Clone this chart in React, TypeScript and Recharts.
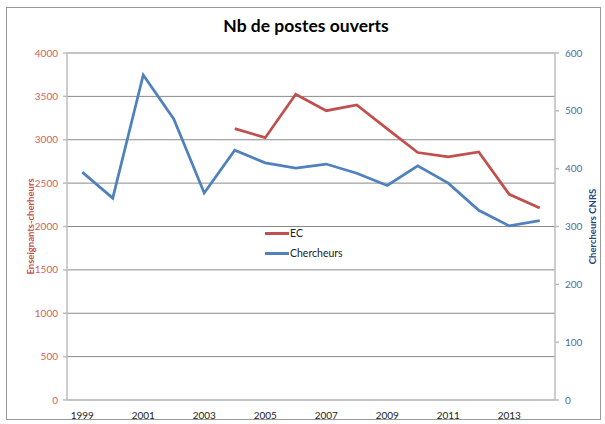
import { LineChart, Line, XAxis, YAxis, CartesianGrid, Legend } from 'recharts'

const years = [1999, 2000, 2001, 2002, 2003, 2004, 2005, 2006, 2007, 2008, 2009, 2010, 2011, 2012, 2013, 2014]
const ecValues = [null, null, null, null, null, 3128, 3024, 3524, 3335, 3401, 3125, 2853, 2803, 2859, 2371, 2213]
const chercheursValues = [394, 349, 562, 486, 358, 432, 410, 401, 408, 392, 371, 405, 375, 328, 301, 310]
const leftTicks = [0, 500, 1000, 1500, 2000, 2500, 3000, 3500, 4000]
const rightTicks = [0, 100, 200, 300, 400, 500, 600]
const labelYears = [1999, 2001, 2003, 2005, 2007, 2009, 2011, 2013]
const boundaryTicks = [...years.map((y) => y - 0.5), years[years.length - 1] + 0.5]

const data = years.map((year, i) => ({ year, ec: ecValues[i], chercheurs: chercheursValues[i] }))

const FONT = 'Lato, "Open Sans", sans-serif'
const RED = '#C0504D'
const BLUE = '#4F81BD'

function AxisTitle({ viewBox, value, fill, dx }: any) {
  const cx = viewBox.x + viewBox.width / 2 + dx
  const cy = viewBox.y + viewBox.height / 2
  return (
    <text x={cx} y={cy} transform={`rotate(-90 ${cx} ${cy})`} textAnchor="middle" dominantBaseline="central"
      fontFamily={FONT} fontSize={9.5} fontWeight={700} fill={fill}>
      {value}
    </text>
  )
}

function ChartLegend() {
  const items = [
    { label: 'EC', color: RED },
    { label: 'Chercheurs', color: BLUE },
  ]
  return (
    <div style={{ fontFamily: FONT, fontSize: 10.5, color: '#222' }}>
      {items.map((it) => (
        <div key={it.label} style={{ display: 'flex', alignItems: 'center', height: 20 }}>
          <span style={{ display: 'inline-block', width: 24, height: 3, background: it.color }} />
          <span style={{ marginLeft: 1 }}>{it.label}</span>
        </div>
      ))}
    </div>
  )
}

export default function App() {
  return (
    <div style={{ position: 'absolute', left: 0, top: 0, width: 605, height: 424, background: '#fff' }}>
      <div style={{ position: 'absolute', left: 6, top: 7, width: 593, height: 411, border: '1px solid #9a9a9a' }} />
      <div style={{ position: 'absolute', left: 0, top: 15, width: 612, textAlign: 'center', fontFamily: FONT, fontWeight: 700, fontSize: 17.5, color: '#000' }}>
        Nb de postes ouverts
      </div>
      <div style={{ position: 'absolute', left: 0, top: 0 }}>
        <LineChart width={605} height={424} data={data} margin={{ top: 53, right: 0, bottom: 4, left: 0 }}>
          <CartesianGrid yAxisId="left" vertical={false} stroke="#8a8a8a" strokeWidth={1} />
          <XAxis xAxisId="ticks" dataKey="year" type="number" domain={[1998.5, 2014.5]} ticks={boundaryTicks}
            height={0} tickFormatter={() => ''} stroke="#bdbdbd" strokeWidth={1.5} tickSize={4} allowDataOverflow />
          <XAxis xAxisId="labels" dataKey="year" type="number" domain={[1998.5, 2014.5]} ticks={labelYears}
            height={20} axisLine={false} tickLine={false} tickMargin={6}
            tick={{ fontFamily: FONT, fontSize: 10, fill: '#222' }} allowDataOverflow />
          <YAxis yAxisId="left" width={67} domain={[0, 4000]} ticks={leftTicks} stroke="#bdbdbd" strokeWidth={1.5}
            tickSize={4} tickMargin={5} tick={{ fontFamily: FONT, fontSize: 10, fill: '#D0605C' }}
            label={<AxisTitle value="Enseignants-cherheurs" fill={RED} dx={-3.5} />} />
          <YAxis yAxisId="right" orientation="right" width={50} domain={[0, 600]} ticks={rightTicks} stroke="#bdbdbd"
            strokeWidth={1.5} tickSize={4} tickMargin={6} tick={{ fontFamily: FONT, fontSize: 10, fill: '#4A6E9E' }}
            label={<AxisTitle value="Chercheurs CNRS" fill="#1F497D" dx={12} />} />
          <Legend layout="vertical" align="center" verticalAlign="middle" content={<ChartLegend />}
            wrapperStyle={{ left: 265, top: 223, width: 'auto' }} />
          <Line xAxisId="ticks" yAxisId="left" dataKey="ec" name="EC" stroke={RED} strokeWidth={2.75} dot={false}
            activeDot={false} isAnimationActive={false} />
          <Line xAxisId="ticks" yAxisId="right" dataKey="chercheurs" name="Chercheurs" stroke={BLUE} strokeWidth={2.75}
            dot={false} activeDot={false} isAnimationActive={false} />
        </LineChart>
      </div>
    </div>
  )
}
